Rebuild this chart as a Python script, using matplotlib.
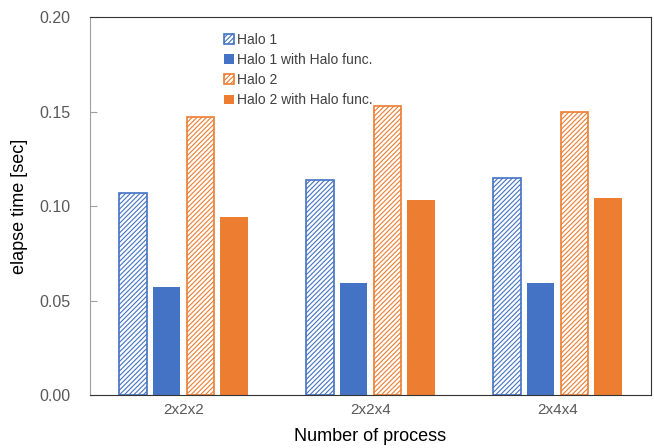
import numpy as np
from matplotlib import pyplot as plt

plt.rcParams['font.family'] = ['Liberation Sans', 'DejaVu Sans']
plt.rcParams['hatch.linewidth'] = 0.8

categories = ['2x2x2', '2x2x4', '2x4x4']
halo1 = [0.107, 0.114, 0.115]
halo1_func = [0.057, 0.059, 0.059]
halo2 = [0.147, 0.153, 0.150]
halo2_func = [0.094, 0.103, 0.104]

blue = '#4472C4'
orange = '#ED7D31'

fig = plt.figure(figsize=(6.54, 4.48), dpi=100)
ax = fig.add_axes([0.1376, 0.1183, 0.8578, 0.8437])

x = np.arange(len(categories))
w = 0.145
ax.bar(x - 0.27, halo1, w, facecolor='white', edgecolor=blue, hatch='///////',
       linewidth=1.2, label='Halo 1')
ax.bar(x - 0.09, halo1_func, w, color=blue, label='Halo 1 with Halo func.')
ax.bar(x + 0.09, halo2, w, facecolor='white', edgecolor=orange, hatch='///////',
       linewidth=1.2, label='Halo 2')
ax.bar(x + 0.27, halo2_func, w, color=orange, label='Halo 2 with Halo func.')

ax.set_xlim(-0.5, 2.5)
ax.set_ylim(0, 0.20)
ax.set_yticks([0, 0.05, 0.10, 0.15, 0.20])
ax.set_yticklabels(['%.2f' % v for v in [0, 0.05, 0.10, 0.15, 0.20]])
ax.set_xticks(x)
ax.set_xticklabels(categories)
ax.tick_params(axis='x', length=0, labelsize=11, colors='#595959', pad=6)
ax.tick_params(axis='y', direction='in', length=5, color='#a0a0a0',
               labelsize=11.5, labelcolor='#595959', pad=14)

for s in ['top', 'right', 'bottom']:
    ax.spines[s].set_color('#333333')
ax.spines['left'].set_color('#a0a0a0')

ax.set_ylabel('elapse time [sec]', fontsize=13, labelpad=8)
ax.set_xlabel('Number of process', fontsize=13, labelpad=8)

ax.legend(loc='upper left', bbox_to_anchor=(0.217, 0.992), frameon=False,
          fontsize=10, handlelength=0.7, handleheight=0.7, handletextpad=0.25,
          labelspacing=0.45, labelcolor='#404040')

plt.savefig('out.png')
